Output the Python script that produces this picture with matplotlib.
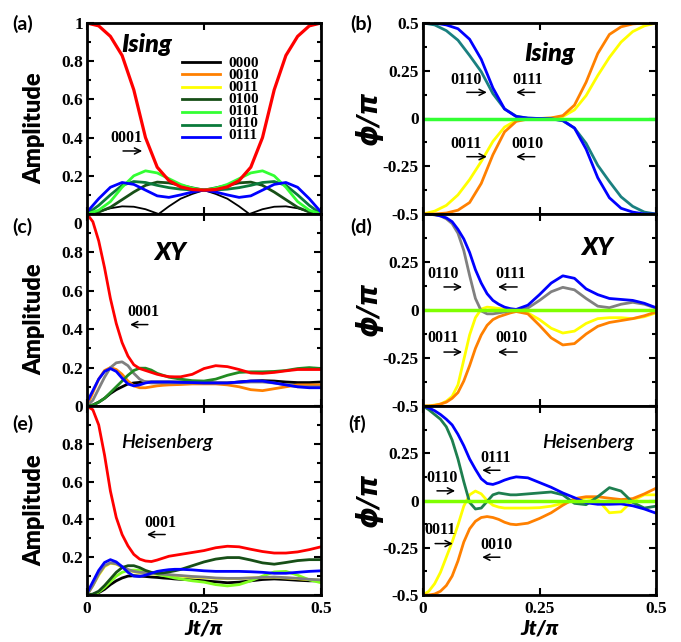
import numpy as np
import matplotlib
matplotlib.use("Agg")
import matplotlib.pyplot as plt
from matplotlib.ticker import MultipleLocator, FixedLocator, FixedFormatter

plt.rcParams['font.family'] = ['Liberation Serif', 'DejaVu Serif']
plt.rcParams['font.weight'] = 'bold'

SANS = ['Lato', 'DejaVu Sans']

# colours
C_BLACK = 'black'
C_RED = '#ff0000'
C_ORANGE = '#ff8000'
C_YELLOW = '#ffff00'
C_DKGREEN = '#174f17'
C_LIME = '#33ff33'
C_MIDGREEN = '#0a7a3a'
C_TEAL = '#1a8080'
C_GREY = '#808080'
C_BLUE = '#0000ff'
C_ZERO = '#7fff00'

# ---------------- Ising (a), (b) ----------------
t_ising = [0, 0.025, 0.05, 0.075, 0.1, 0.125, 0.15, 0.175, 0.2, 0.225, 0.25,
           0.275, 0.3, 0.325, 0.35, 0.375, 0.4, 0.425, 0.45, 0.475, 0.5]

amp_a_0001 = [1.0, 0.985, 0.93, 0.83, 0.65, 0.40, 0.245, 0.175, 0.142, 0.128, 0.125,
              0.128, 0.142, 0.175, 0.245, 0.40, 0.65, 0.83, 0.93, 0.985, 1.0]
amp_a_0101 = [0, 0.02, 0.065, 0.14, 0.2, 0.226, 0.215, 0.185, 0.155, 0.135, 0.125,
              0.135, 0.155, 0.185, 0.215, 0.226, 0.2, 0.14, 0.065, 0.02, 0]
amp_a_0111 = [0.01, 0.08, 0.14, 0.165, 0.155, 0.125, 0.095, 0.087, 0.1, 0.115, 0.125,
              0.115, 0.1, 0.087, 0.095, 0.125, 0.155, 0.165, 0.14, 0.08, 0.01]
amp_a_0110 = [0, 0.045, 0.1, 0.15, 0.17, 0.165, 0.15, 0.138, 0.13, 0.126, 0.125,
              0.126, 0.13, 0.138, 0.15, 0.165, 0.17, 0.15, 0.1, 0.045, 0]
amp_a_0100 = [0, 0.01, 0.035, 0.075, 0.115, 0.15, 0.167, 0.163, 0.15, 0.137, 0.125,
              0.137, 0.15, 0.163, 0.167, 0.15, 0.115, 0.075, 0.035, 0.01, 0]
t_a_0000 = [0, 0.025, 0.05, 0.075, 0.1, 0.125, 0.153, 0.175, 0.2, 0.225, 0.25,
            0.275, 0.3, 0.325, 0.347, 0.375, 0.4, 0.425, 0.45, 0.475, 0.5]
amp_a_0000 = [0, 0.012, 0.03, 0.04, 0.038, 0.025, 0, 0.04, 0.08, 0.105, 0.125,
              0.105, 0.08, 0.04, 0, 0.025, 0.038, 0.04, 0.03, 0.012, 0]

ph_b_0111 = [0.5, 0.5, 0.49, 0.47, 0.415, 0.31, 0.16, 0.05, 0.01, 0.002, 0,
             -0.002, -0.01, -0.05, -0.16, -0.31, -0.415, -0.47, -0.49, -0.5, -0.5]
ph_b_0110 = [0.5, 0.49, 0.46, 0.41, 0.33, 0.245, 0.13, 0.05, 0.012, 0.002, 0,
             -0.002, -0.012, -0.05, -0.13, -0.245, -0.33, -0.41, -0.46, -0.49, -0.5]
ph_b_0010 = [-0.5, -0.5, -0.495, -0.48, -0.44, -0.34, -0.19, -0.07, -0.015, -0.003, 0,
             0.003, 0.015, 0.07, 0.19, 0.34, 0.44, 0.48, 0.495, 0.5, 0.5]
ph_b_0011 = [-0.5, -0.485, -0.455, -0.4, -0.32, -0.225, -0.12, -0.045, -0.01, -0.002, 0,
             0.002, 0.01, 0.045, 0.12, 0.225, 0.32, 0.4, 0.455, 0.485, 0.5]
t_zero = [0, 0.5]
ph_zero = [0, 0]

# ---------------- XY / Heisenberg (c)-(f) ----------------
t_grid = [0, 0.0125, 0.025, 0.0375, 0.05, 0.0625, 0.075, 0.0875, 0.1, 0.1125,
          0.125, 0.1375, 0.15, 0.1625, 0.175, 0.1875, 0.2, 0.225, 0.25, 0.275,
          0.3, 0.325, 0.35, 0.375, 0.4, 0.425, 0.45, 0.475, 0.5]

amp_c_0001 = [1.0, 0.96, 0.86, 0.72, 0.56, 0.43, 0.33, 0.26, 0.215, 0.195,
              0.185, 0.175, 0.165, 0.158, 0.153, 0.152, 0.152, 0.165, 0.195, 0.21,
              0.205, 0.19, 0.172, 0.17, 0.175, 0.183, 0.19, 0.19, 0.19]
amp_c_0010 = [0, 0.07, 0.14, 0.185, 0.2, 0.19, 0.165, 0.13, 0.105, 0.095,
              0.095, 0.1, 0.105, 0.108, 0.11, 0.111, 0.112, 0.115, 0.115, 0.115,
              0.11, 0.1, 0.085, 0.08, 0.09, 0.1, 0.11, 0.11, 0.11]
amp_c_0110 = [0, 0.03, 0.09, 0.15, 0.2, 0.225, 0.23, 0.21, 0.17, 0.14,
              0.125, 0.12, 0.12, 0.12, 0.12, 0.12, 0.12, 0.12, 0.12, 0.12,
              0.12, 0.122, 0.125, 0.125, 0.12, 0.11, 0.1, 0.1, 0.1]
amp_c_0111 = [0.02, 0.08, 0.14, 0.18, 0.195, 0.18, 0.145, 0.115, 0.105, 0.11,
              0.12, 0.125, 0.125, 0.125, 0.125, 0.124, 0.123, 0.122, 0.12, 0.12,
              0.12, 0.125, 0.13, 0.13, 0.12, 0.11, 0.1, 0.095, 0.095]
amp_c_0100 = [0, 0.005, 0.02, 0.04, 0.07, 0.1, 0.13, 0.16, 0.185, 0.197,
              0.197, 0.187, 0.17, 0.16, 0.15, 0.145, 0.14, 0.132, 0.13, 0.14,
              0.16, 0.175, 0.178, 0.178, 0.18, 0.185, 0.195, 0.2, 0.195]
amp_c_0000 = [0, 0.005, 0.02, 0.04, 0.065, 0.085, 0.1, 0.115, 0.12, 0.123,
              0.125, 0.125, 0.125, 0.125, 0.125, 0.125, 0.125, 0.125, 0.123, 0.12,
              0.12, 0.125, 0.13, 0.132, 0.13, 0.125, 0.122, 0.122, 0.125]

ph_d_0111 = [0.5, 0.5, 0.497, 0.49, 0.48, 0.46, 0.42, 0.37, 0.3, 0.21,
             0.14, 0.085, 0.05, 0.03, 0.015, 0.007, 0.003, 0.025, 0.08, 0.14,
             0.178, 0.165, 0.11, 0.08, 0.06, 0.055, 0.05, 0.035, 0.012]
ph_d_0110 = [0.5, 0.5, 0.495, 0.49, 0.475, 0.45, 0.4, 0.31, 0.18, 0.06,
             -0.005, -0.02, -0.02, -0.015, -0.01, -0.005, 0.0, 0.01, 0.05, 0.095,
             0.118, 0.105, 0.06, 0.02, 0.012, 0.03, 0.04, 0.03, 0.01]
ph_d_0010 = [-0.5, -0.5, -0.497, -0.49, -0.48, -0.46, -0.43, -0.37, -0.29, -0.2,
             -0.13, -0.08, -0.05, -0.035, -0.025, -0.015, -0.008, -0.02, -0.08, -0.145,
             -0.182, -0.175, -0.125, -0.085, -0.065, -0.055, -0.045, -0.03, -0.01]
ph_d_0011 = [-0.5, -0.5, -0.495, -0.49, -0.475, -0.45, -0.39, -0.26, -0.13, -0.04,
             0.005, 0.015, 0.012, 0.008, 0.004, 0.0, -0.003, -0.015, -0.05, -0.095,
             -0.12, -0.11, -0.07, -0.045, -0.04, -0.04, -0.045, -0.035, -0.015]

amp_e_0001 = [1.0, 0.98, 0.9, 0.74, 0.55, 0.41, 0.32, 0.26, 0.215, 0.19,
              0.18, 0.177, 0.185, 0.195, 0.205, 0.21, 0.215, 0.225, 0.235, 0.25,
              0.258, 0.255, 0.242, 0.23, 0.222, 0.222, 0.228, 0.24, 0.255]
amp_e_0100 = [0, 0.005, 0.02, 0.05, 0.085, 0.12, 0.145, 0.155, 0.155, 0.145,
              0.13, 0.12, 0.115, 0.117, 0.122, 0.128, 0.135, 0.155, 0.175, 0.19,
              0.198, 0.198, 0.185, 0.17, 0.163, 0.172, 0.182, 0.187, 0.187]
amp_e_0111 = [0.01, 0.07, 0.13, 0.172, 0.187, 0.175, 0.15, 0.12, 0.1, 0.098,
              0.105, 0.115, 0.125, 0.13, 0.134, 0.136, 0.136, 0.133, 0.128, 0.125,
              0.125, 0.125, 0.123, 0.12, 0.115, 0.115, 0.12, 0.125, 0.128]
amp_e_0110 = [0, 0.05, 0.11, 0.155, 0.17, 0.165, 0.15, 0.135, 0.125, 0.12,
              0.118, 0.115, 0.113, 0.11, 0.108, 0.105, 0.103, 0.098, 0.095, 0.09,
              0.088, 0.088, 0.09, 0.093, 0.095, 0.092, 0.088, 0.083, 0.08]
amp_e_0011 = [0, 0.05, 0.105, 0.15, 0.168, 0.163, 0.148, 0.133, 0.123, 0.118,
              0.115, 0.112, 0.11, 0.107, 0.105, 0.102, 0.1, 0.095, 0.092, 0.088,
              0.086, 0.087, 0.09, 0.092, 0.094, 0.09, 0.086, 0.081, 0.078]
amp_e_0101 = [0, 0.003, 0.015, 0.04, 0.07, 0.1, 0.12, 0.13, 0.132, 0.13,
              0.125, 0.118, 0.11, 0.103, 0.097, 0.09, 0.085, 0.075, 0.068, 0.055,
              0.048, 0.055, 0.075, 0.1, 0.122, 0.125, 0.105, 0.08, 0.065]
amp_e_0000 = [0, 0.003, 0.012, 0.03, 0.055, 0.075, 0.09, 0.1, 0.102, 0.1,
              0.098, 0.095, 0.093, 0.09, 0.088, 0.085, 0.083, 0.08, 0.075, 0.07,
              0.065, 0.068, 0.075, 0.082, 0.085, 0.082, 0.078, 0.075, 0.075]

ph_f_0111 = [0.5, 0.49, 0.475, 0.455, 0.43, 0.4, 0.35, 0.29, 0.22, 0.165,
             0.115, 0.09, 0.085, 0.095, 0.108, 0.118, 0.125, 0.12, 0.095, 0.07,
             0.04, 0.015, -0.012, -0.02, -0.02, -0.018, -0.028, -0.045, -0.067]
ph_f_0110 = [0.5, 0.48, 0.455, 0.43, 0.39, 0.32, 0.22, 0.1, -0.01, -0.045,
             -0.04, -0.005, 0.03, 0.04, 0.035, 0.03, 0.03, 0.035, 0.04, 0.045,
             0.03, -0.015, -0.022, 0.02, 0.068, 0.05, -0.01, -0.04, -0.03]
ph_f_0011 = [-0.5, -0.48, -0.44, -0.38, -0.3, -0.22, -0.13, -0.03, 0.03, 0.05,
             0.035, 0.0, -0.025, -0.035, -0.04, -0.04, -0.04, -0.04, -0.038, -0.03,
             -0.015, 0.0, 0.015, 0.005, -0.065, -0.06, 0.0, 0.03, 0.03]
ph_f_0010 = [-0.5, -0.5, -0.495, -0.48, -0.45, -0.4, -0.32, -0.22, -0.15, -0.11,
             -0.09, -0.085, -0.09, -0.1, -0.115, -0.125, -0.128, -0.12, -0.095, -0.065,
             -0.025, 0.01, 0.02, 0.02, 0.012, 0.005, 0.01, 0.035, 0.065]

legend_labels = ['0000', '0010', '0011', '0100', '0101', '0110', '0111']
legend_colors = [C_BLACK, C_ORANGE, C_YELLOW, C_DKGREEN, C_LIME, C_MIDGREEN, C_BLUE]

amp_ticklabels = {
    'a': ['', '0.2', '0.4', '0.6', '0.8', '1'],
    'c': ['0', '0.2', '0.4', '0.6', '0.8', ''],
    'e': ['', '0.2', '0.4', '0.6', '0.8', ''],
}
phase_ticklabels = {
    'b': ['-0.5', '-0.25', '0', '0.25', '0.5'],
    'd': ['-0.5', '-0.25', '0', '0.25', ''],
    'f': ['-0.5', '-0.25', '0', '0.25', ''],
}

FW, FH = 681, 642
fig = plt.figure(figsize=(FW / 100, FH / 100), dpi=100)


def make_axes(x0, x1, y0, y1):
    return fig.add_axes([x0 / FW, 1 - y1 / FH, (x1 - x0) / FW, (y1 - y0) / FH])


rows = [(23, 214), (214, 406), (406, 595)]
axa = make_axes(87, 321, *rows[0])
axc = make_axes(87, 321, *rows[1])
axe = make_axes(87, 321, *rows[2])
axb = make_axes(423, 656, *rows[0])
axd = make_axes(423, 656, *rows[1])
axf = make_axes(423, 656, *rows[2])


def style(ax, amp, ylabels, bottom):
    ax.set_xlim(0, 0.5)
    ax.xaxis.set_major_locator(FixedLocator([0, 0.25, 0.5]))
    if amp:
        ax.set_ylim(0, 1)
        ax.yaxis.set_major_locator(FixedLocator([0, 0.2, 0.4, 0.6, 0.8, 1.0]))
        ax.yaxis.set_minor_locator(MultipleLocator(0.1))
    else:
        ax.set_ylim(-0.5, 0.5)
        ax.yaxis.set_major_locator(FixedLocator([-0.5, -0.25, 0, 0.25, 0.5]))
        ax.yaxis.set_minor_locator(MultipleLocator(0.125))
    ax.yaxis.set_major_formatter(FixedFormatter(ylabels))
    if bottom:
        ax.xaxis.set_major_formatter(FixedFormatter(['0', '0.25', '0.5']))
    else:
        ax.tick_params(axis='x', labelbottom=False)
    ax.tick_params(which='both', direction='in', top=True, right=True,
                   width=1.5, labelsize=12.5)
    ax.tick_params(which='major', length=5)
    ax.tick_params(which='minor', length=3)
    ax.tick_params(axis='y', pad=3)
    ax.tick_params(axis='x', pad=4)
    for s in ax.spines.values():
        s.set_linewidth(2)
    if amp:
        ax.set_ylabel('Amplitude', family=SANS, fontsize=17, fontweight='heavy')
        ax.yaxis.set_label_coords(-0.18, 0.45)
    else:
        ax.set_ylabel('ϕ/π', family=['DejaVu Sans'], fontsize=20,
                      fontweight='bold', fontstyle='italic')
        ax.yaxis.set_label_coords(-0.17, 0.5)
    if bottom:
        ax.set_xlabel('Jt/π', family=SANS, fontsize=15, fontweight='heavy',
                      fontstyle='italic')
        ax.xaxis.set_label_coords(0.5, -0.125)


def mark(ax, label, tx, ty, x0, x1, y):
    ax.text(tx, ty, label, ha='center', va='center', fontsize=11.5)
    ax.annotate('', xy=(x1, y), xytext=(x0, y),
                arrowprops=dict(arrowstyle='->', color='k', lw=1.1,
                                mutation_scale=11, shrinkA=0, shrinkB=0))


def panel_label(ax, s, dx, dy):
    ax.text(dx, dy, s, transform=ax.transAxes, family=SANS, fontsize=14,
            fontweight='bold', ha='center', va='center')


LW = 2.0

# (a)
axa.plot(t_a_0000, amp_a_0000, color=C_BLACK, lw=1.3)
axa.plot(t_ising, amp_a_0100, color=C_DKGREEN, lw=LW)
axa.plot(t_ising, amp_a_0110, color=C_MIDGREEN, lw=LW)
axa.plot(t_ising, amp_a_0101, color=C_LIME, lw=LW)
axa.plot(t_ising, amp_a_0111, color=C_BLUE, lw=LW)
axa.plot(t_ising, amp_a_0001, color=C_RED, lw=2.3)
style(axa, True, amp_ticklabels['a'], False)

# tightly packed key: swatches plus one block of labels
key_top, key_step = 0.796, 0.0655
for i, c in enumerate(legend_colors):
    yk = key_top - i * key_step
    axa.plot([0.406, 0.568], [yk, yk], color=c, lw=2, transform=axa.transAxes)
axa.text(0.603, key_top - 3 * key_step, '\n'.join(legend_labels),
         transform=axa.transAxes, fontsize=11, ha='left', va='center',
         linespacing=0.89)

axa.text(0.128, 0.885, 'Ising', family=SANS, fontsize=18, fontweight='heavy',
         fontstyle='italic', ha='center', va='center')
mark(axa, '0001', 0.085, 0.40, 0.077, 0.118, 0.33)

# (b)
axb.plot(t_ising, ph_b_0011, color=C_YELLOW, lw=LW)
axb.plot(t_ising, ph_b_0010, color=C_ORANGE, lw=LW)
axb.plot(t_ising, ph_b_0110, color=C_TEAL, lw=LW)
axb.plot(t_ising, ph_b_0111, color=C_BLUE, lw=LW)
axb.plot(t_zero, ph_zero, color=C_LIME, lw=2.5)
style(axb, False, phase_ticklabels['b'], False)
axb.text(0.272, 0.342, 'Ising', family=SANS, fontsize=18, fontweight='heavy',
         fontstyle='italic', ha='center', va='center')
mark(axb, '0110', 0.092, 0.2, 0.094, 0.137, 0.137)
mark(axb, '0111', 0.225, 0.2, 0.240, 0.200, 0.137)
mark(axb, '0011', 0.092, -0.132, 0.094, 0.137, -0.2)
mark(axb, '0010', 0.225, -0.132, 0.240, 0.200, -0.2)

# (c)
axc.plot(t_grid, amp_c_0000, color=C_BLACK, lw=LW)
axc.plot(t_grid, amp_c_0010, color=C_ORANGE, lw=LW)
axc.plot(t_grid, amp_c_0110, color=C_GREY, lw=LW)
axc.plot(t_grid, amp_c_0100, color='#228b22', lw=LW)
axc.plot(t_grid, amp_c_0111, color=C_BLUE, lw=LW)
axc.plot(t_grid, amp_c_0001, color=C_RED, lw=LW)
style(axc, True, amp_ticklabels['c'], False)
axc.text(-0.04, 0.943, '0', transform=axc.transAxes, fontsize=12.5,
         ha='center', va='center')
axc.text(0.177, 0.8, 'XY', family=SANS, fontsize=18, fontweight='heavy',
         fontstyle='italic', ha='center', va='center')
mark(axc, '0001', 0.12, 0.49, 0.13, 0.092, 0.424)

# (d)
axd.plot(t_grid, ph_d_0011, color=C_YELLOW, lw=LW)
axd.plot(t_grid, ph_d_0010, color=C_ORANGE, lw=LW)
axd.plot(t_grid, ph_d_0110, color=C_GREY, lw=LW)
axd.plot(t_grid, ph_d_0111, color=C_BLUE, lw=LW)
axd.plot(t_zero, ph_zero, color=C_ZERO, lw=2.5)
style(axd, False, phase_ticklabels['d'], False)
axd.text(0.373, 0.328, 'XY', family=SANS, fontsize=18, fontweight='heavy',
         fontstyle='italic', ha='center', va='center')
mark(axd, '0110', 0.043, 0.1875, 0.045, 0.084, 0.12)
mark(axd, '0111', 0.189, 0.1875, 0.202, 0.161, 0.12)
mark(axd, '0011', 0.043, -0.146, 0.045, 0.084, -0.219)
mark(axd, '0010', 0.189, -0.146, 0.202, 0.161, -0.219)

# (e)
axe.plot(t_grid, amp_e_0000, color=C_BLACK, lw=LW)
axe.plot(t_grid, amp_e_0011, color=C_YELLOW, lw=LW)
axe.plot(t_grid, amp_e_0101, color='#80ff20', lw=LW)
axe.plot(t_grid, amp_e_0110, color=C_GREY, lw=LW)
axe.plot(t_grid, amp_e_0100, color=C_DKGREEN, lw=LW)
axe.plot(t_grid, amp_e_0111, color=C_BLUE, lw=LW)
axe.plot(t_grid, amp_e_0001, color=C_RED, lw=LW)
style(axe, True, amp_ticklabels['e'], True)
axe.text(0.171, 0.805, 'Heisenberg', family=SANS, fontsize=14, fontweight='semibold',
         fontstyle='italic', ha='center', va='center')
mark(axe, '0001', 0.156, 0.379, 0.167, 0.128, 0.32)

# (f)
axf.plot(t_grid, ph_f_0011, color=C_YELLOW, lw=LW)
axf.plot(t_grid, ph_f_0010, color=C_ORANGE, lw=LW)
axf.plot(t_grid, ph_f_0110, color='#1e7f4f', lw=LW)
axf.plot(t_grid, ph_f_0111, color=C_BLUE, lw=LW)
axf.plot(t_zero, ph_zero, color=C_ZERO, lw=2.5)
style(axf, False, phase_ticklabels['f'], True)
axf.text(0.354, 0.309, 'Heisenberg', family=SANS, fontsize=14, fontweight='semibold',
         fontstyle='italic', ha='center', va='center')
mark(axf, '0111', 0.155, 0.225, 0.165, 0.127, 0.16)
mark(axf, '0110', 0.041, 0.12, 0.030, 0.069, 0.051)
mark(axf, '0011', 0.036, -0.154, 0.026, 0.064, -0.228)
mark(axf, '0010', 0.157, -0.233, 0.165, 0.127, -0.30)

# panel letters, positioned relative to each axes
panel_label(axa, '(a)', -0.273, 0.995)
panel_label(axc, '(c)', -0.278, 0.935)
panel_label(axe, '(e)', -0.273, 0.905)
panel_label(axb, '(b)', -0.266, 0.995)
panel_label(axd, '(d)', -0.266, 0.935)
panel_label(axf, '(f)', -0.283, 0.905)

fig.savefig('out.png', dpi=100)
